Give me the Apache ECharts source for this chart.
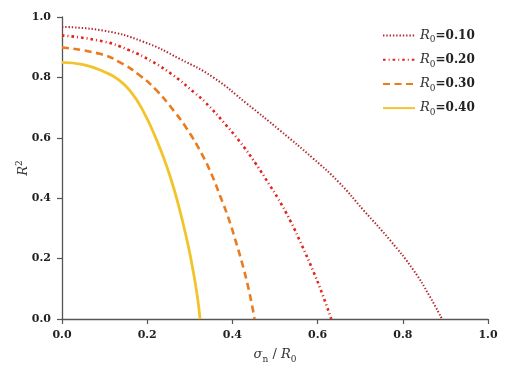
<!DOCTYPE html>
<html>
<head>
<meta charset="utf-8">
<script src="https://cdn.jsdelivr.net/npm/echarts@6/dist/echarts.min.js"></script>
<style>
  html, body { margin: 0; padding: 0; background: #fff; }
  #chart { width: 509px; height: 377px; }
</style>
</head>
<body>
<div id="chart"></div>
<script>
// values: [sigma_n / R0, R^2]
const r0Labels = ['0.10', '0.20', '0.30', '0.40'];
const curveR010 = [[0, 0.967], [0.097, 0.955], [0.191, 0.918], [0.277, 0.861], [0.355, 0.800], [0.434, 0.713], [0.512, 0.624], [0.590, 0.531], [0.649, 0.454], [0.708, 0.360], [0.770, 0.261], [0.825, 0.162], [0.862, 0.078], [0.892, 0]];
const curveR020 = [[0, 0.939], [0.097, 0.919], [0.156, 0.891], [0.211, 0.853], [0.262, 0.806], [0.312, 0.748], [0.336, 0.718], [0.379, 0.652], [0.418, 0.586], [0.455, 0.514], [0.489, 0.440], [0.506, 0.402], [0.536, 0.325], [0.563, 0.244], [0.588, 0.164], [0.611, 0.083], [0.632, 0]];
const curveR030 = [[0, 0.899], [0.089, 0.878], [0.136, 0.850], [0.183, 0.806], [0.222, 0.757], [0.262, 0.690], [0.293, 0.630], [0.328, 0.547], [0.352, 0.476], [0.371, 0.408], [0.391, 0.333], [0.407, 0.261], [0.422, 0.189], [0.435, 0.118], [0.446, 0.046], [0.452, 0]];
const curveR040 = [[0, 0.850], [0.05, 0.842], [0.10, 0.818], [0.13, 0.795], [0.16, 0.755], [0.19, 0.690], [0.222, 0.593], [0.246, 0.505], [0.265, 0.420], [0.281, 0.335], [0.297, 0.238], [0.308, 0.158], [0.318, 0.072], [0.324, 0]];

const serif = '"DejaVu Serif", serif';
const mathRich = {
  i: { fontFamily: serif, fontStyle: 'italic', fontSize: 13, color: '#333', lineHeight: 18 },
  s: { fontFamily: serif, fontStyle: 'normal', fontSize: 9, color: '#333', lineHeight: 10, verticalAlign: 'bottom' },
  sup: { fontFamily: serif, fontStyle: 'normal', fontSize: 9, color: '#333', lineHeight: 10, verticalAlign: 'top' },
  sp: { fontFamily: serif, fontSize: 13, color: '#333', lineHeight: 18 },
  b: { fontFamily: serif, fontWeight: 'bold', fontSize: 12, color: '#222', lineHeight: 18 }
};

const styles = [
  { color: '#b3262e', width: 2, type: [1.4, 1.9] },
  { color: '#e3221c', width: 2.6, type: [2.6, 3, 1, 3] },
  { color: '#ea7b1f', width: 2.6, type: [7, 4.5] },
  { color: '#f2c42c', width: 2.8, type: 'solid' }
];
const curves = [curveR010, curveR020, curveR030, curveR040];

const tickLabel = {
  margin: 11,
  fontFamily: serif,
  fontWeight: 'bold',
  fontSize: 11,
  color: '#222',
  formatter: v => v.toFixed(1)
};

const chart = echarts.init(document.getElementById('chart'));
chart.setOption({
  animation: false,
  backgroundColor: '#fff',
  grid: { left: 62, right: 21, top: 17, bottom: 58 },
  legend: {
    orient: 'vertical',
    left: 377,
    top: 24,
    itemWidth: 32,
    itemHeight: 14,
    itemGap: 8.7,
    itemStyle: { opacity: 0 },
    data: r0Labels.map(v => 'R0=' + v),
    formatter: name => '{i|R}{s|0}{b|' + name.slice(2) + '}',
    textStyle: { rich: mathRich }
  },
  xAxis: {
    type: 'value',
    min: 0,
    max: 1,
    interval: 0.2,
    name: '{i|σ}{s|n}{sp| / }{i|R}{s|0}',
    nameLocation: 'middle',
    nameGap: 27,
    nameMoveOverlap: false,
    nameTextStyle: { rich: mathRich },
    axisLine: { lineStyle: { color: '#555', width: 1.3 } },
    axisTick: { show: true, inside: false, length: 5, lineStyle: { color: '#555', width: 1.2 } },
    axisLabel: tickLabel,
    splitLine: { show: false }
  },
  yAxis: {
    type: 'value',
    min: 0,
    max: 1,
    interval: 0.2,
    name: '{i|R}{sup|2}',
    nameLocation: 'middle',
    nameGap: 29,
    nameMoveOverlap: false,
    nameRotate: 90,
    nameTextStyle: { rich: mathRich },
    axisLine: { show: true, lineStyle: { color: '#555', width: 1.3 } },
    axisTick: { show: true, inside: false, length: 5, lineStyle: { color: '#555', width: 1.2 } },
    axisLabel: tickLabel,
    splitLine: { show: false }
  },
  series: curves.map((data, k) => ({
    name: 'R0=' + r0Labels[k],
    type: 'line',
    data: data,
    smooth: 0.5,
    symbol: 'none',
    clip: false,
    lineStyle: { color: styles[k].color, width: styles[k].width, type: styles[k].type },
    itemStyle: { color: styles[k].color }
  }))
});
</script>
</body>
</html>
